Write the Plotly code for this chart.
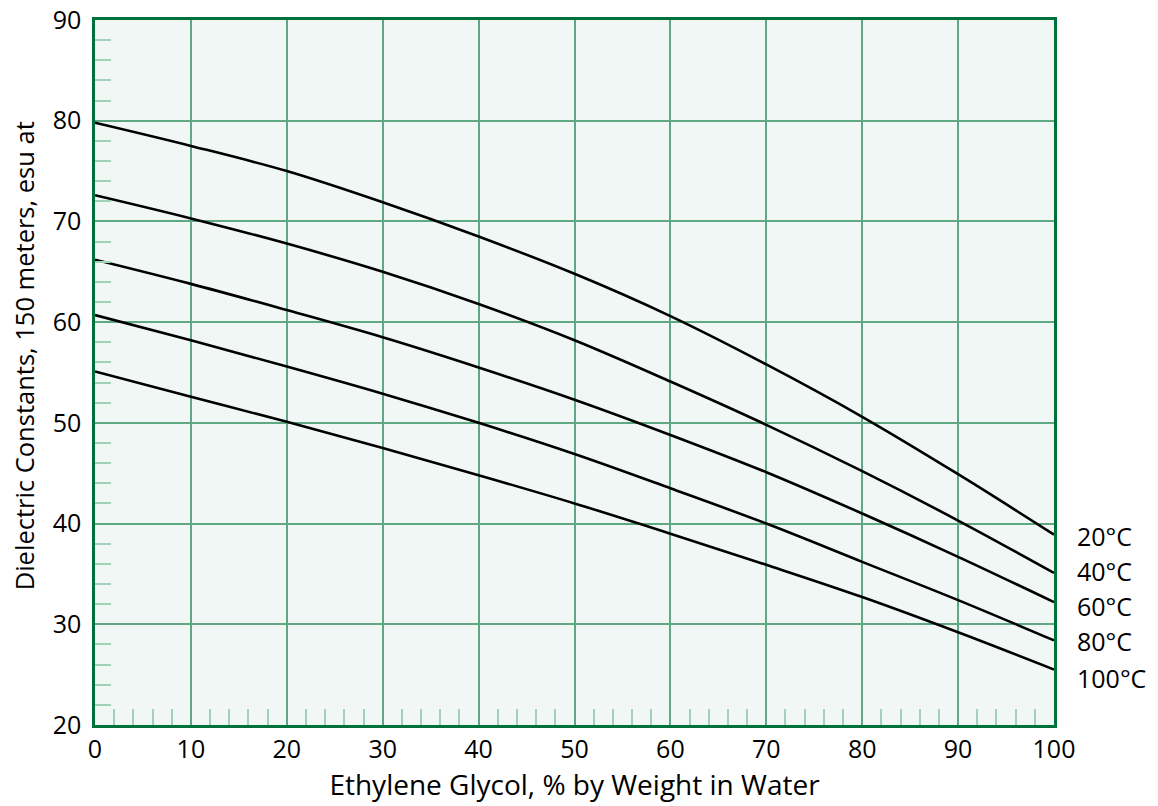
import plotly.graph_objects as go

glycol_pct = [0, 10, 20, 30, 40, 50, 60, 70, 80, 90, 100]
temp_labels = ["20°C", "40°C", "60°C", "80°C", "100°C"]
dielectric_20 = [79.8, 77.5, 75.0, 71.9, 68.5, 64.8, 60.6, 55.8, 50.6, 44.9, 38.9]
dielectric_40 = [72.6, 70.3, 67.8, 65.0, 61.8, 58.2, 54.1, 49.8, 45.2, 40.3, 35.1]
dielectric_60 = [66.2, 63.8, 61.2, 58.5, 55.5, 52.3, 48.8, 45.1, 41.0, 36.7, 32.2]
dielectric_80 = [60.7, 58.2, 55.6, 52.9, 50.0, 46.9, 43.5, 40.0, 36.2, 32.4, 28.4]
dielectric_100 = [55.1, 52.6, 50.1, 47.5, 44.8, 42.0, 39.0, 35.9, 32.7, 29.2, 25.5]
label_y = [38.8, 35.3, 31.8, 28.3, 24.7]

x_title = "Ethylene Glycol, % by Weight in Water"
y_title = "Dielectric Constants, 150 meters, esu at"

series = [dielectric_20, dielectric_40, dielectric_60, dielectric_80, dielectric_100]

FONT = "Open Sans"
BORDER = "#00703c"
GRID = "#5fa884"
MINOR = "#a3d0b8"
BG = "#f0f7f4"

fig = go.Figure()
for name, vals in zip(temp_labels, series):
    fig.add_trace(go.Scatter(
        x=glycol_pct, y=vals, mode="lines", name=name,
        line=dict(color="black", width=2.6, shape="spline", smoothing=1.0),
        showlegend=False, hoverinfo="skip",
    ))

for name, yv in zip(temp_labels, label_y):
    fig.add_annotation(
        x=1.022, xref="paper", y=yv, yref="y", text=name, showarrow=False,
        xanchor="left", yanchor="middle",
        font=dict(family=FONT, size=25, color="black"),
    )

# y-axis title (placed as rotated annotation to match reference offset)
fig.add_annotation(
    x=-0.074, xref="paper", y=0.523, yref="paper", text=y_title,
    textangle=-90, showarrow=False, xanchor="center", yanchor="middle",
    font=dict(family=FONT, size=25.5, color="black"),
)

axis_common = dict(
    showline=True, linecolor=BORDER, linewidth=2.5, mirror=True,
    showgrid=True, gridcolor=GRID, gridwidth=1.6,
    zeroline=False, ticks="", automargin=False,
    ticklabeloverflow="allow",
    tickfont=dict(family=FONT, size=25, color="black"),
)

fig.update_xaxes(
    range=[0, 100], dtick=10, tick0=0,
    minor=dict(ticks="inside", ticklen=16, tickwidth=1.5, tickcolor=MINOR, dtick=2, showgrid=False),
    title=dict(text=x_title, font=dict(family=FONT, size=28, color="black"), standoff=10),
    **axis_common,
)
fig.update_yaxes(
    range=[20, 90], dtick=10, tick0=20, ticklabelstandoff=6,
    minor=dict(ticks="inside", ticklen=16, tickwidth=1.5, tickcolor=MINOR, dtick=2, showgrid=False),
    **axis_common,
)

fig.update_layout(
    width=1158, height=806,
    margin=dict(l=95, r=104, t=20, b=81),
    plot_bgcolor=BG, paper_bgcolor="white",
)

# remove the default page margin so the figure fills the window exactly
fig.write_html(
    "out.html",
    config={"displayModeBar": False},
    post_script="document.body.style.margin='0';",
)
